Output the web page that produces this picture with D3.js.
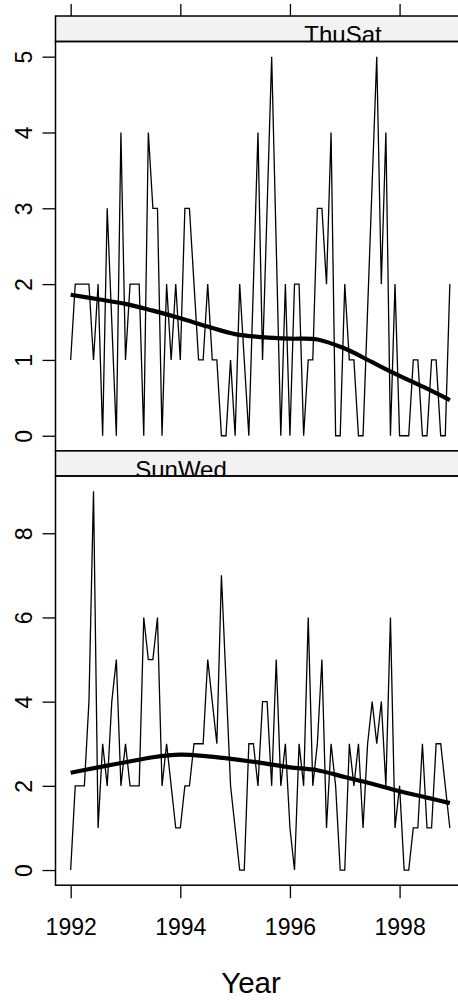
<!DOCTYPE html>
<html>
<head>
<meta charset="utf-8">
<script src="https://cdn.jsdelivr.net/npm/d3@7"></script>
<style>
  html, body { margin: 0; padding: 0; background: #ffffff; }
  svg { display: block; }
  text { font-family: "Liberation Sans", Arial, Helvetica, sans-serif; fill: #000; }
</style>
</head>
<body>
<div id="chart"></div>
<script>
// ---------------- data ----------------
const startYear = 1992;
// month offsets from Jan 1992 (84 months); null = no observation plotted
const monthIndex = d3.range(84);
const thuSatCount = [
  1,2,2,2,2,1,2,0,3,null,0,4,
  1,2,2,2,0,4,3,3,0,2,1,2,
  1,3,3,2,1,1,2,1,1,0,0,1,
  0,2,1,0,2,4,1,3,5,null,0,2,
  0,2,2,0,1,1,3,3,2,4,0,0,
  2,1,1,0,0,null,null,5,2,4,0,2,
  0,0,0,1,1,0,0,1,1,0,0,2
];
const sunWedCount = [
  0,2,2,2,4,9,1,3,2,4,5,2,
  3,2,2,2,6,5,5,6,2,3,2,1,
  1,2,2,3,3,3,5,4,3,7,null,2,
  1,0,0,3,3,2,4,4,2,5,2,3,
  1,0,3,2,6,2,3,5,1,3,2,0,
  0,3,2,3,1,3,4,3,4,2,6,1,
  2,0,0,1,1,3,1,1,3,3,2,1
];
// smooth (loess) curves
const smoothYear   = [1992, 1992.5, 1993, 1993.5, 1994, 1994.5, 1995, 1995.5, 1996, 1996.5, 1997, 1997.5, 1998, 1998.5, 1998.917];
const thuSatSmooth = [1.86, 1.80, 1.74, 1.65, 1.55, 1.44, 1.34, 1.30, 1.28, 1.27, 1.15, 0.97, 0.79, 0.62, 0.47];
const sunWedSmooth = [2.31, 2.44, 2.56, 2.68, 2.74, 2.70, 2.63, 2.54, 2.44, 2.37, 2.21, 2.05, 1.87, 1.72, 1.59];

const xTicks = [1992, 1994, 1996, 1998];
const thuSatTicks = [0, 1, 2, 3, 4, 5];
const sunWedTicks = [0, 2, 4, 6, 8];
const panelNames = ["ThuSat", "SunWed"];
const xLabel = "Year";

// ---------------- layout ----------------
const W = 458, H = 1002;
const left = 55.5, right = 465;
const svg = d3.select("#chart").append("svg").attr("width", W).attr("height", H);

const x = d3.scaleLinear().domain([1991.7233, 1999.1933]).range([left, right]);

const panels = [
  { name: panelNames[0], stripTop: 16, top: 41.5, bottom: 450.9,
    y: d3.scaleLinear().domain([-0.2, 5.2]).range([450.9, 41.5]),
    ticks: thuSatTicks, counts: thuSatCount, smooth: thuSatSmooth, labelX: 343 },
  { name: panelNames[1], stripTop: 450.9, top: 476, bottom: 885.2,
    y: d3.scaleLinear().domain([-0.36, 9.36]).range([885.2, 476]),
    ticks: sunWedTicks, counts: sunWedCount, smooth: sunWedSmooth, labelX: 181 }
];

const defs = svg.append("defs");

panels.forEach((p, k) => {
  const g = svg.append("g");

  const clipId = "clip" + k;
  defs.append("clipPath").attr("id", clipId).append("rect")
    .attr("x", left).attr("y", p.top).attr("width", right - left).attr("height", p.bottom - p.top);
  const stripClip = "sclip" + k;
  defs.append("clipPath").attr("id", stripClip).append("rect")
    .attr("x", left).attr("y", p.stripTop).attr("width", right - left).attr("height", p.top - p.stripTop);

  // strip
  g.append("rect").attr("x", left).attr("y", p.stripTop)
    .attr("width", right - left).attr("height", p.top - p.stripTop)
    .attr("fill", "#f2f2f2");
  g.append("g").attr("clip-path", `url(#${stripClip})`)
    .append("text")
    .attr("x", p.labelX).attr("y", p.stripTop + 26.6)
    .attr("text-anchor", "middle")
    .style("font-size", "24px")
    .text(p.name);
  g.append("rect").attr("x", left).attr("y", p.stripTop)
    .attr("width", right - left).attr("height", p.top - p.stripTop)
    .attr("fill", "none").attr("stroke", "#000").attr("stroke-width", 1.5);

  // data
  const pts = monthIndex
    .map(i => ({ t: startYear + i / 12, v: p.counts[i] }))
    .filter(d => d.v !== null);
  const cg = g.append("g").attr("clip-path", `url(#${clipId})`);
  cg.append("path").datum(pts)
    .attr("fill", "none").attr("stroke", "#000").attr("stroke-width", 1.3)
    .attr("stroke-linejoin", "miter")
    .attr("d", d3.line().x(d => x(d.t)).y(d => p.y(d.v)));
  const sm = smoothYear.map((t, i) => ({ t, v: p.smooth[i] }));
  cg.append("path").datum(sm)
    .attr("fill", "none").attr("stroke", "#000").attr("stroke-width", 4.2)
    .attr("stroke-linecap", "butt")
    .attr("d", d3.line().curve(d3.curveCatmullRom).x(d => x(d.t)).y(d => p.y(d.v)));

  // panel border
  g.append("rect").attr("x", left).attr("y", p.top)
    .attr("width", right - left).attr("height", p.bottom - p.top)
    .attr("fill", "none").attr("stroke", "#000").attr("stroke-width", 1.5);

  // y axis (left) with rotated labels
  const ya = g.append("g").attr("transform", `translate(${left},0)`)
    .call(d3.axisLeft(p.y).tickValues(p.ticks).tickSize(13).tickSizeOuter(0).tickFormat(d3.format("d")));
  ya.select(".domain").remove();
  ya.selectAll(".tick line").attr("stroke", "#000").attr("stroke-width", 1.3);
  ya.selectAll(".tick text")
    .attr("x", null).attr("dy", null)
    .attr("transform", "translate(-23.5,0) rotate(-90)")
    .attr("text-anchor", "middle")
    .style("font-size", "23px")
    .style("font-family", "'Liberation Sans', Arial, sans-serif")
    .attr("fill", "#000");
});

// top axis ticks (above top strip)
const ta = svg.append("g").attr("transform", "translate(0,16)")
  .call(d3.axisTop(x).tickValues(xTicks).tickSize(12).tickSizeOuter(0).tickFormat(""));
ta.select(".domain").remove();
ta.selectAll(".tick line").attr("stroke", "#000").attr("stroke-width", 1.3);

// bottom axis
const ba = svg.append("g").attr("transform", "translate(0,885.2)")
  .call(d3.axisBottom(x).tickValues(xTicks).tickSize(13).tickSizeOuter(0).tickFormat(d3.format("d")));
ba.select(".domain").remove();
ba.selectAll(".tick line").attr("stroke", "#000").attr("stroke-width", 1.3);
ba.selectAll(".tick text")
  .attr("y", 49.8).attr("dy", null)
  .style("font-size", "23px")
  .style("font-family", "'Liberation Sans', Arial, sans-serif")
  .attr("fill", "#000");

// x label
svg.append("text").attr("x", 251).attr("y", 992.7)
  .attr("text-anchor", "middle")
  .style("font-size", "29.5px")
  .text(xLabel);
</script>
</body>
</html>
